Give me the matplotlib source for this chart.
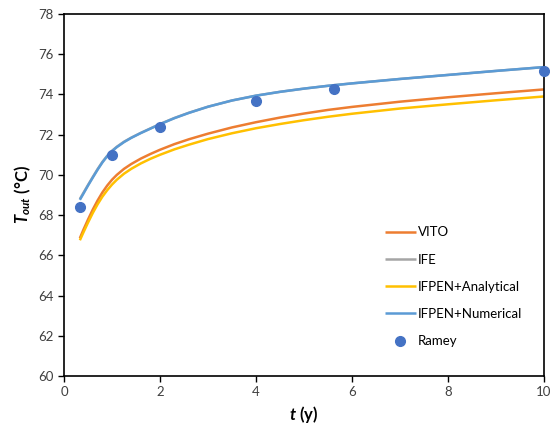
import numpy as np
import matplotlib
matplotlib.use('Agg')
import matplotlib.pyplot as plt

plt.rcParams['font.family'] = ['Lato', 'DejaVu Sans']
plt.rcParams['mathtext.fontset'] = 'custom'
plt.rcParams['mathtext.rm'] = 'Lato'
plt.rcParams['mathtext.it'] = 'Lato:italic'
plt.rcParams['mathtext.bf'] = 'Lato:bold'
plt.rcParams['mathtext.bfit'] = 'Lato:italic:bold'

t = [0.33, 0.4, 0.5, 0.6, 0.7, 0.8, 0.9, 1.0, 1.1, 1.25, 1.4, 1.6, 1.8, 2.0,
     2.3, 2.6, 3.0, 3.5, 4.0, 4.5, 5.0, 5.5, 6.0, 7.0, 8.0, 9.0, 10.0]
vito = [66.85, 67.25, 67.78, 68.28, 68.73, 69.13, 69.47, 69.76, 70.0, 70.3,
        70.54, 70.81, 71.04, 71.25, 71.53, 71.77, 72.05, 72.36, 72.62, 72.85,
        73.05, 73.23, 73.38, 73.64, 73.86, 74.06, 74.25]
ife = [68.8, 69.09, 69.5, 69.9, 70.29, 70.65, 70.95, 71.2, 71.4, 71.65,
       71.85, 72.09, 72.31, 72.53, 72.83, 73.09, 73.39, 73.7, 73.94, 74.13,
       74.29, 74.43, 74.55, 74.77, 74.97, 75.17, 75.36]
ifpen_an = [66.75, 67.12, 67.63, 68.11, 68.54, 68.92, 69.24, 69.52, 69.76, 70.06,
            70.3, 70.57, 70.8, 71.0, 71.27, 71.5, 71.78, 72.07, 72.32, 72.53,
            72.72, 72.89, 73.04, 73.3, 73.51, 73.71, 73.9]
ifpen_num = [68.76, 69.05, 69.47, 69.87, 70.26, 70.62, 70.93, 71.18, 71.38, 71.63,
             71.84, 72.08, 72.3, 72.52, 72.82, 73.08, 73.39, 73.7, 73.94, 74.13,
             74.29, 74.43, 74.55, 74.77, 74.97, 75.17, 75.36]

ramey_t = [0.33, 1.0, 2.0, 4.0, 5.63, 10.0]
ramey_T = [68.42, 71.0, 72.4, 73.68, 74.26, 75.19]

fig = plt.figure(figsize=(5.5, 4.32), dpi=100)
ax = fig.add_axes([0.1164, 0.1296, 0.8727, 0.838])

kw = dict(lw=1.8, solid_joinstyle='round', solid_capstyle='butt')
ax.plot(t, vito, color='#ED7D31', label='VITO', **kw)
ax.plot(t, ife, color='#A5A5A5', label='IFE', **kw)
ax.plot(t, ifpen_an, color='#FFC000', label='IFPEN+Analytical', **kw)
ax.plot(t, ifpen_num, color='#5B9BD5', label='IFPEN+Numerical', **kw)
ax.plot(ramey_t, ramey_T, 'o', color='#4472C4', ms=7, label='Ramey', clip_on=False, zorder=5)

ax.set_xlim(0, 10)
ax.set_ylim(60, 78)
ax.set_xticks(np.arange(0, 11, 2))
ax.set_yticks(np.arange(60, 79, 2))
ax.tick_params(direction='out', length=4, width=1, labelsize=9.5, colors='black', labelcolor='#404040')
for s in ax.spines.values():
    s.set_color('black')
    s.set_linewidth(1.2)

ax.set_xlabel(r'$\mathbfit{t}$ (y)', fontsize=12, fontweight='bold')
ax.set_ylabel(r'$\mathbfit{T}_{\mathbfit{out}}$ (°C)', fontsize=12, fontweight='bold')

leg = ax.legend(loc='lower right', bbox_to_anchor=(0.98, 0.047), frameon=False,
                fontsize=9.5, labelspacing=1.15, handlelength=2.4, handletextpad=0.15)

fig.savefig('out.png', dpi=100)
